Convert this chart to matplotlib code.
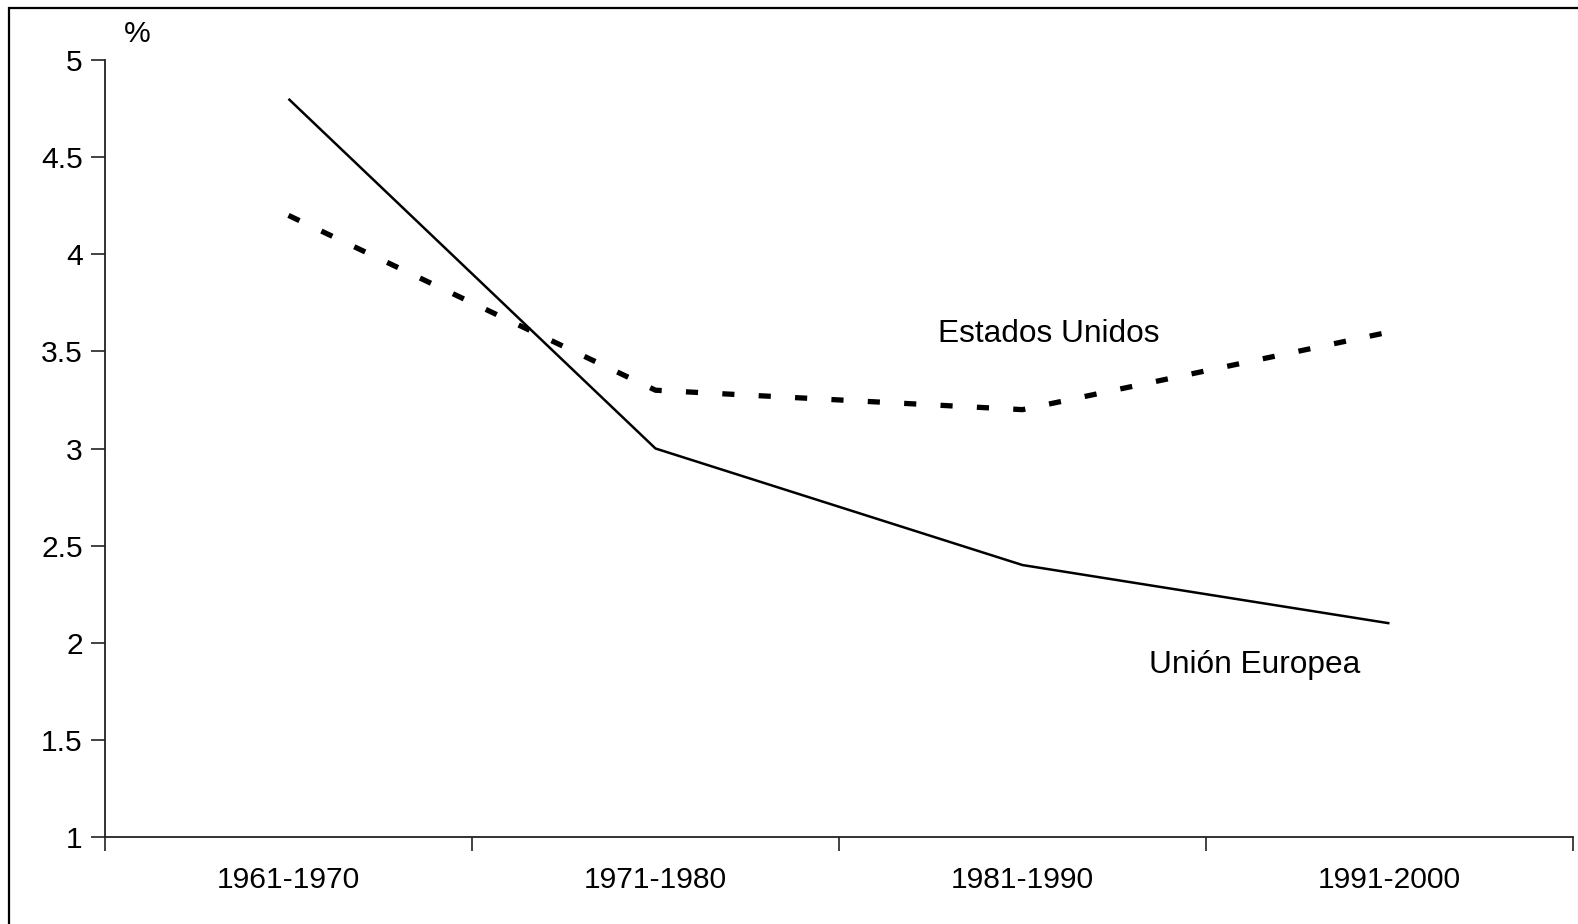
import numpy as np
import matplotlib.pyplot as plt
from matplotlib.patches import Rectangle

plt.rcParams['font.family'] = ['Liberation Sans', 'DejaVu Sans']

# Data
periods = ['1961-1970', '1971-1980', '1981-1990', '1991-2000']
union_europea = [4.8, 3.0, 2.4, 2.1]
estados_unidos = [4.2, 3.3, 3.2, 3.6]
y_ticks = [1, 1.5, 2, 2.5, 3, 3.5, 4, 4.5, 5]
y_labels = ['1', '1.5', '2', '2.5', '3', '3.5', '4', '4.5', '5']

fig = plt.figure(figsize=(15.78, 9.24), dpi=100)
ax = fig.add_axes([105 / 1578, 1 - 837 / 924, (1573 - 105) / 1578, (837 - 60) / 924])

x = np.arange(len(periods))
ax.plot(x, union_europea, color='black', lw=1.8, solid_capstyle='butt')
ax.plot(x, estados_unidos, color='black', lw=3.8, dashes=(2.3, 4.6), dash_capstyle='butt')

ax.set_xlim(-0.5, len(periods) - 0.5)
ax.set_ylim(1, 5)

ax.set_xticks(x)
ax.set_xticklabels(periods, fontsize=21.6)
ax.set_xticks(np.arange(len(periods) + 1) - 0.5, minor=True)
ax.tick_params(axis='x', which='major', length=0, pad=21)
ax.tick_params(axis='x', which='minor', length=10, width=1.2, direction='out', color='#222222')

ax.set_yticks(y_ticks)
ax.set_yticklabels(y_labels, fontsize=21.6)
ax.tick_params(axis='y', length=10, width=1.2, direction='out', pad=6, color='#222222')

for side in ['top', 'right']:
    ax.spines[side].set_visible(False)
for side in ['left', 'bottom']:
    ax.spines[side].set_linewidth(1.3)
    ax.spines[side].set_color('#222222')

ax.text(1.771, 3.59, 'Estados Unidos', fontsize=22.8, va='center', ha='left')
ax.text(2.346, 1.885, 'Unión Europea', fontsize=22.8, va='center', ha='left')
fig.text(137 / 1578, 1 - 34 / 924, '%', fontsize=21.6, ha='center', va='center')

# outer frame of the figure
fig.patches.append(Rectangle((9 / 1578, -0.1), 1.2, 1 - 8 / 924 + 0.1,
                             transform=fig.transFigure, fill=False,
                             edgecolor='black', lw=1.6))

fig.savefig('out.png', dpi=100)
